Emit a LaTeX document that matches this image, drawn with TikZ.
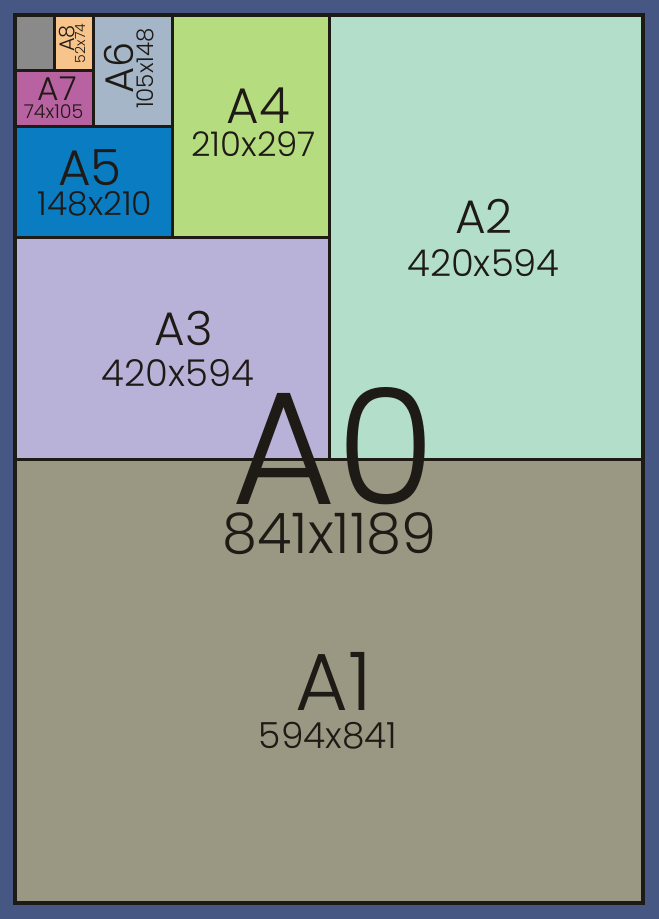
\documentclass[tikz,border=0pt]{standalone}
\usepackage{fontspec}
\setmainfont{Poppins Light}
\definecolor{bordercol}{HTML}{465784}
\definecolor{a1col}{HTML}{9A9883}
\definecolor{a2col}{HTML}{B3DEC9}
\definecolor{a3col}{HTML}{B9B2D8}
\definecolor{a4col}{HTML}{B6DC80}
\definecolor{a5col}{HTML}{0A7CC2}
\definecolor{a6col}{HTML}{A4B6C8}
\definecolor{a7col}{HTML}{B862A2}
\definecolor{a8col}{HTML}{F7C48C}
\definecolor{restcol}{HTML}{8A8A8A}
\definecolor{inkcol}{HTML}{1E1A16}
\newcommand{\fs}[1]{\fontsize{#1}{#1}\selectfont}
\tikzset{
  lbl/.style={inner sep=0pt, anchor=center, text=inkcol},
  divline/.style={draw=inkcol, line width=3pt},
  frameline/.style={draw=inkcol, line width=4pt}
}
\begin{document}
\begin{tikzpicture}[x=1pt,y=-1pt]
\useasboundingbox (0,0) rectangle (659,919);
\fill[bordercol] (0,0) rectangle (659,919);
% sheets
\fill[a1col] (15,459) rectangle (643,903);
\fill[a2col] (329,15) rectangle (643,459);
\fill[a3col] (15,237) rectangle (329,459);
\fill[a4col] (172,15) rectangle (329,237);
\fill[a5col] (15,126) rectangle (172,237);
\fill[a6col] (93.5,15) rectangle (172,126);
\fill[a7col] (15,70.5) rectangle (93.5,126);
\fill[a8col] (54.25,15) rectangle (93.5,70.5);
\fill[restcol] (15,15) rectangle (54.25,70.5);
% dividing lines
\draw[divline] (15,459) -- (643,459);
\draw[divline] (329,15) -- (329,459);
\draw[divline] (15,237) -- (329,237);
\draw[divline] (172,15) -- (172,237);
\draw[divline] (15,126) -- (172,126);
\draw[divline] (93.5,15) -- (93.5,126);
\draw[divline] (15,70.5) -- (93.5,70.5);
\draw[divline] (54.25,15) -- (54.25,70.5);
\draw[frameline] (15,15) rectangle (643,903);
% labels
\node[lbl, font=\fs{161}] (a0) at (333.5,446.5) {A0};
\node[lbl, font=\fs{56}] (a0s) at (329.5,533.5) {841x1189};
\node[lbl, font=\fs{81}] (a1) at (334,681.5) {A1};
\node[lbl, font=\fs{36}] (a1s) at (328,736) {594x841};
\node[lbl, font=\fs{47}] (a2) at (484,216) {A2};
\node[lbl, font=\fs{37}] (a2s) at (483.5,263) {420x594};
\node[lbl, font=\fs{47}] (a3) at (184,328) {A3};
\node[lbl, font=\fs{37}] (a3s) at (178,373) {420x594};
\node[lbl, font=\fs{50}] (a4) at (258.5,106) {A4};
\node[lbl, font=\fs{34}] (a4s) at (253.5,144) {210x297};
\node[lbl, font=\fs{50}] (a5) at (90,168) {A5};
\node[lbl, font=\fs{33}] (a5s) at (95,204) {148x210};
\node[lbl, font=\fs{40}, rotate=90] (a6) at (119,67.5) {A6};
\node[lbl, font=\fs{23}, rotate=90] (a6s) at (145,68.5) {105x148};
\node[lbl, font=\fs{33}] (a7) at (57.5,88.5) {A7};
\node[lbl, font=\fs{19}] (a7s) at (53.5,111.5) {74x105};
\node[lbl, font=\fs{21}, rotate=90] (a8) at (67.5,38.5) {A8};
\node[lbl, font=\fs{14}, rotate=90] (a8s) at (80,43.5) {52x74};
\end{tikzpicture}
\end{document}
